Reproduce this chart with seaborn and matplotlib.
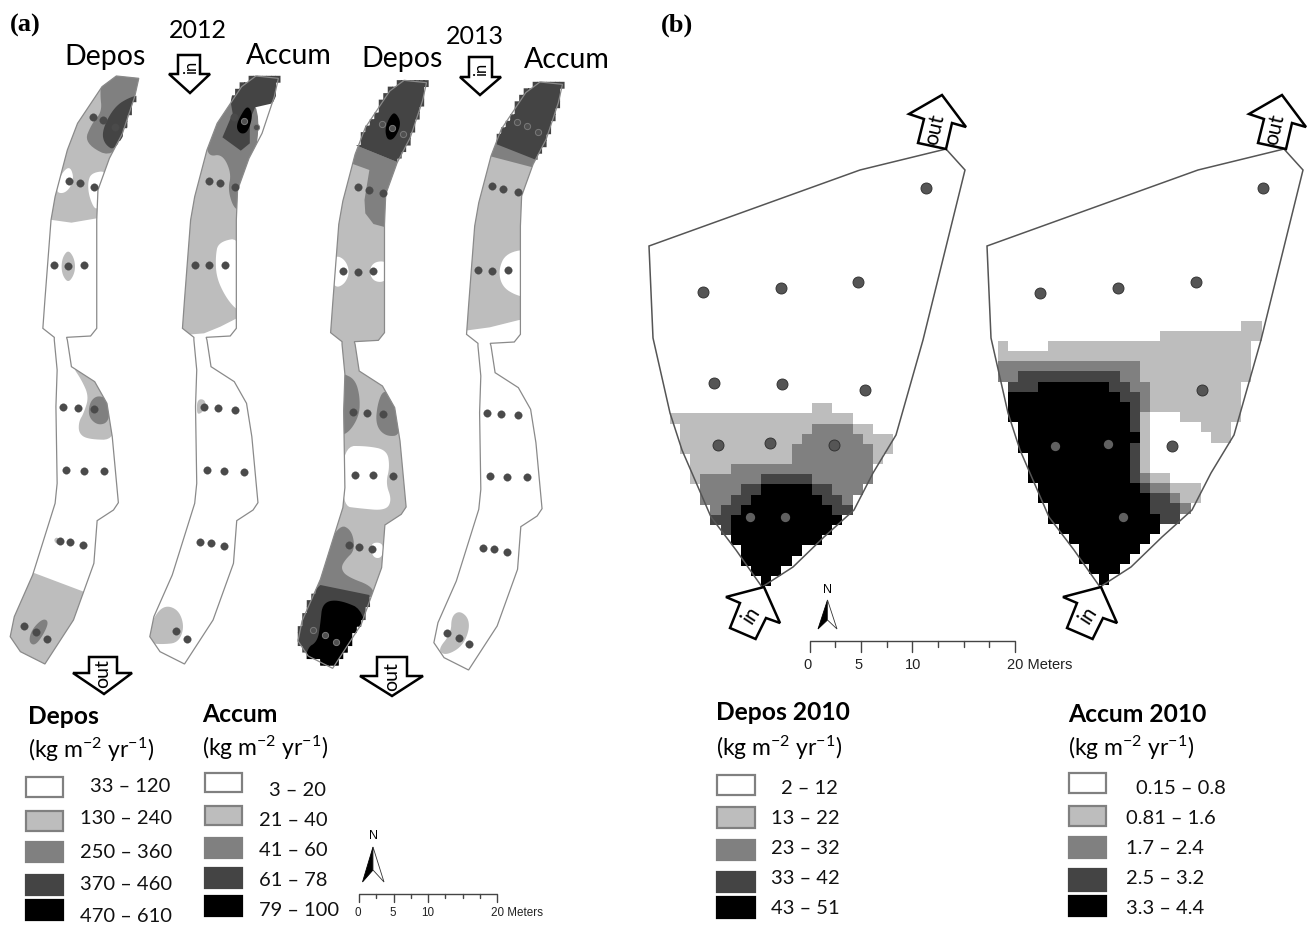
import numpy as np
import pandas as pd
import matplotlib
matplotlib.use("Agg")
import matplotlib.pyplot as plt
from matplotlib.path import Path
from matplotlib.patches import Polygon, Rectangle
from matplotlib.colors import ListedColormap
import seaborn as sns

W, H = 1309, 925
sns.set_theme(style="white")
plt.rcParams["font.family"] = ["Lato", "DejaVu Sans"]
plt.rcParams["mathtext.fontset"] = "custom"
plt.rcParams["mathtext.rm"] = "Lato"
plt.rcParams["mathtext.default"] = "rm"

GREYS = ["#ffffff", "#bdbdbd", "#808080", "#444444", "#000000"]
SX, SY = 2.45, 3.0   # survey-plan units of panel (a) to pixels

# ---- panel (a): flume outline, offsets of the four maps
strip_outline = [(285,228),(340,235),(330,290),(300,400),(268,475),(240,570),(237,660),(237,985),
    (222,1008),(163,1012),(165,1020),(175,1100),(232,1145),(262,1210),(275,1310),(290,1508),
    (278,1530),(238,1562),(230,1690),(180,1860),(110,1992),(50,1955),(25,1910),(35,1850),(80,1725),
    (135,1510),(140,1450),(137,1220),(140,1110),(133,1020),(133,1012),(105,985),(110,900),(125,660),
    (135,590),(165,450),(190,370),(250,260)]
strip_offsets = [(0,0),(342,0),(705,13),(1038,18)]

# zones: (class, smooth?, stair-clip?, polygon)
zones_dep12 = [
    (1,False,False,[(80,200),(360,200),(360,655),(237,655),(175,668),(128,660),(80,650)]),
    (0,True,False,[(172,497),(182,540),(162,580),(135,578),(150,520)]),
    (0,True,False,[(225,518),(265,512),(250,600),(235,635),(218,590),(215,545)]),
    (2,True,False,[(250,215),(360,215),(340,300),(285,480),(205,430),(225,370),(250,335),(245,280)]),
    (3,True,True,[(320,290),(350,285),(285,455),(255,432),(250,390),(280,320)]),
    (1,True,False,[(167,750),(180,770),(185,800),(180,828),(167,848),(154,828),(150,800),(154,770)]),
    (1,True,False,[(175,1095),(240,1140),(270,1210),(285,1320),(215,1318),(193,1300),(193,1265),(205,1240),(218,1190),(200,1140)]),
    (2,True,False,[(240,1185),(268,1200),(268,1265),(240,1277),(216,1250),(220,1205)]),
    (1,True,False,[(140,1610),(148,1625),(140,1634),(131,1620)]),
    (1,False,False,[(75,1715),(205,1775),(180,1900),(110,2010),(0,1980),(0,1850)]),
    (2,True,False,[(105,1855),(120,1865),(106,1905),(85,1938),(70,1925),(78,1888)]),
]
zones_acc12 = [
    (1,False,False,[(430,440),(640,440),(640,955),(580,955),(540,980),(500,1000),(450,1005),(420,1020),(400,800)]),
    (0,True,False,[(535,725),(595,712),(595,935),(575,925),(550,885),(530,830),(528,770)]),
    (2,True,False,[(510,470),(545,462),(567,520),(558,570),(575,632),(600,625),(650,300),(540,280),(520,350),(505,420)]),
    (3,False,True,[(565,305),(590,170),(720,170),(668,310),(625,322),(612,360),(612,430),(590,452),(545,412),(570,340)]),
    (4,True,False,[(607,315),(620,345),(607,398),(588,402),(578,380),(590,345)]),
    (1,True,False,[(483,1198),(502,1198),(505,1225),(490,1242),(482,1240)]),
    (1,True,False,[(400,1815),(437,1828),(452,1880),(437,1928),(400,1933),(365,1930),(370,1865)]),
]
zones_dep13 = [
    (1,False,False,[(780,440),(1100,440),(1100,1790),(700,1790)]),
    (0,True,False,[(840,1338),(900,1338),(948,1350),(955,1400),(945,1450),(960,1500),(945,1532),(880,1525),(838,1518)]),
    (0,True,False,[(820,765),(845,778),(857,815),(845,852),(820,865),(805,815)]),
    (0,True,False,[(915,786),(947,783),(957,815),(942,847),(915,844),(904,815)]),
    (2,False,False,[(860,430),(975,487),(970,545),(945,590),(945,682),(915,672),(895,640),(893,600),(905,510),(860,490)]),
    (2,True,False,[(840,1120),(870,1138),(882,1190),(880,1250),(850,1305),(815,1305),(815,1115)]),
    (2,True,False,[(940,1168),(968,1190),(985,1305),(945,1310),(920,1275),(925,1210)]),
    (2,True,False,[(830,1572),(862,1590),(870,1650),(845,1680),(835,1705),(850,1730),(915,1760),(915,1800),(760,1800),(775,1700)]),
    (0,True,False,[(907,1628),(940,1628),(937,1674),(913,1674)]),
    (3,False,True,[(785,1755),(905,1785),(920,2020),(680,2020),(700,1850)]),
    (4,True,True,[(790,1808),(830,1798),(900,1835),(900,2060),(740,2060),(750,1945),(778,1925),(785,1870)]),
    (3,False,True,[(860,430),(975,487),(1100,450),(1100,150),(800,150),(800,420)]),
    (4,True,False,[(968,335),(984,370),(966,418),(948,420),(943,385),(955,350)]),
]
zones_acc13 = [
    (1,False,False,[(1100,440),(1400,440),(1400,958),(1272,960),(1200,982),(1140,992),(1100,995)]),
    (0,True,False,[(1240,758),(1305,745),(1305,895),(1265,887),(1230,860),(1221,810)]),
    (2,False,False,[(1180,400),(1340,470),(1330,510),(1180,462)]),
    (3,False,True,[(1180,422),(1215,432),(1310,478),(1420,500),(1450,180),(1200,180)]),
    (1,True,False,[(1125,1832),(1147,1852),(1150,1890),(1132,1940),(1092,1967),(1072,1950),(1105,1900),(1106,1850)]),
]
strip_zones = [zones_dep12, zones_acc12, zones_dep13, zones_acc13]

# sampling points of panel (a)
pts_a_x = [228,253,281,168,196,230,133,167,207,155,190,230,162,206,256,147,172,204,60,88,114,
           573,512,540,575,478,512,552,500,535,575,507,550,599,491,517,548,431,457,
           876,904,938,841,876,914,864,898,938,870,915,964,856,880,911,
           1205,1233,1268,1170,1205,1245,1193,1228,1268,1200,1243,1292,1184,1210,1241,1096,1124,1150]
pts_a_y = [352,361,381,542,550,561,796,798,796,1220,1224,1228,1410,1412,1414,1623,1627,1636,1878,1895,1916,
           352,542,550,561,794,796,794,1221,1225,1229,1411,1413,1415,1625,1629,1638,1894,1916,
           562,570,580,814,816,814,1235,1239,1243,1424,1425,1427,1636,1640,1648,
           557,566,576,810,812,810,1238,1242,1246,1428,1430,1432,1643,1647,1655,1898,1913,1933]
pts_a_dark_x = [597,626,936,960,988,768,797,823,1266,1291,1319]
pts_a_dark_y = [362,381,372,383,401,1889,1906,1927,367,377,396]

# ---- panel (b): class grids (row strings, '.' = lowest class / no fill)
grid_dep10 = [
 "..............11",
 "111111111111111111",
 ".1111111111111222211",
 ".111111111111222222111",
 ".111111111112222222211",
 "..1111111111222222221",
 "..111122222222222222",
 "..122222233333222222",
 "...2222334444433222",
 "...222334444444332",
 "....23344444444433",
 "....3344444444444",
 ".....34444444444",
 "......444444444",
 ".......444444",
 ".......44444",
 "........444",
 ".........4"]
grid_acc10 = [
 "........................11",
 "................1111111111",
 "1....11111111111111111111.",
 "1111111111111111111111111.",
 "2222222222222211111111111.",
 "2233333333332211111111111.",
 ".33344444443322111111111",
 ".44444444444332111111111",
 ".44444444444432111111111",
 ".44444444444431...111111",
 "..4444444444431.....111",
 "..4444444444441......11",
 "..4444444444431",
 "...444444444431",
 "...444444444431",
 "...44444444443211",
 "....4444444444322111",
 "....4444444444433211",
 ".....44444444443332",
 ".....4444444444433",
 "......4444444444",
 ".......44444444",
 "........444444",
 "........44444",
 ".........444",
 "..........4"]
GRID_CELL = 10.15
grid_dep_origin = (669.8, 403.3)
grid_acc_origin = (997.7, 320.7)

field_outline = [(649,246),(653,338),(670,413),(682,450),(711,517),(736,550),(762,587),(793,567),
                 (824,537),(854,510),(873,473),(896,435),(923,340),(965,170),(946,149),(860,170)]
field_offset = 338

pts_b_x = [926,703,781,858,714,782,865,718,770,834, 1263,1040,1118,1196,1202,1172]
pts_b_y = [188,292,288,282,383,384,390,445,443,445, 188,293,288,282,390,446]
pts_b_black_x = [750,785,1055,1108,1123]
pts_b_black_y = [517,517,446,444,517]

# ---- arrows
arrow_down_in12 = [(178,55),(200,55),(200,74),(210,74),(190,93),(169,74),(178,74)]
arrow_down_in13 = [(469,57),(492,57),(492,77),(501,77),(480,95),(460,77),(469,77)]
arrow_down_out12 = [(89,657),(117,657),(117,673),(132,673),(104,694),(73,673),(89,673)]
arrow_down_out13 = [(377,657),(407,657),(407,676),(423,676),(392,696),(360,676),(377,676)]
arrow_out_b = [(942,95),(966,127),(952,123),(946,149),(918,143),(924,119),(909,114)]
arrow_in_b = [(764,587),(780,623),(766,618),(755.6,639),(730,628),(740,603),(726,597)]

# ---- legends
legends = [
 dict(title="Depos", tx=28, ty=717, ux=28, uy=750, bx=(26,63),
      top=[777,811,842,875,900], bot=[797,831,862,895,920],
      labels=["33 – 120","130 – 240","250 – 360","370 – 460","470 – 610"],
      lx=[90,80.5,80.5,80.5,80.5], ly=[787,819,852,884,917]),
 dict(title="Accum", tx=202, ty=715, ux=202, uy=748, bx=(205,242),
      top=[773,806,838,868,896], bot=[792,825,858,888,916],
      labels=["3 – 20","21 – 40","41 – 60","61 – 78","79 – 100"],
      lx=[268.6,259,259,259,259], ly=[790,820,851,880,911]),
 dict(title="Depos 2010", tx=715.5, ty=713, ux=715.5, uy=748, bx=(716.5,754.5),
      top=[775,807,840,872,897], bot=[795,828,860,892,918],
      labels=["2 – 12","13 – 22","23 – 32","33 – 42","43 – 51"],
      lx=[781,771,771,771,771], ly=[788,818,848,878,908]),
 dict(title="Accum 2010", tx=1068, ty=715, ux=1068, uy=748, bx=(1069,1106),
      top=[773,806,837,869,896], bot=[793,826,858,891,916],
      labels=["0.15 – 0.8","0.81 – 1.6","1.7 – 2.4","2.5 – 3.2","3.3 – 4.4"],
      lx=[1135.5,1126,1126.5,1126.5,1126.5], ly=[788,818,848,878,908]),
]
map_titles = [("Depos",105,57),("Accum",288.6,56),("Depos",402,59),("Accum",567,60)]
year_titles = [("2012",198,31),("2013",475,37)]

# ---- helpers
def to_px(pts, dx=0, dy=0):
    a = np.array(pts, dtype=float)
    return np.c_[(a[:,0]+dx)/SX, (a[:,1]+dy)/SY]

def chaikin(a, n=3):
    for _ in range(n):
        b = np.roll(a, -1, axis=0)
        a = np.c_[0.75*a[:,0]+0.25*b[:,0], 0.75*a[:,1]+0.25*b[:,1], 0.25*a[:,0]+0.75*b[:,0], 0.25*a[:,1]+0.75*b[:,1]].reshape(-1,2)
    return a

def stair_clip(path, cx=4.5, cy=6.5):
    ext = path.get_extents()
    xs = np.arange(ext.x0-cx, ext.x1+cx, cx)
    ys = np.arange(ext.y0-cy, ext.y1+cy, cy)
    rects = []
    for x in xs:
        for y in ys:
            if path.contains_point((x+cx/2, y+cy/2), radius=1.0) or path.contains_point((x+cx/2, y+cy/2), radius=-1.0):
                rects.append(Path([(x-.2,y-.2),(x+cx+.2,y-.2),(x+cx+.2,y+cy+.2),(x-.2,y+cy+.2),(x-.2,y-.2)], closed=True))
    return Path.make_compound_path(*rects)

def grid_to_frame(rows):
    n = max(len(r) for r in rows)
    m = [[np.nan if c == "." else int(c) for c in r.ljust(n, ".")] for r in rows]
    return pd.DataFrame(m)

# ---- figure
fig = plt.figure(figsize=(W/100, H/100), dpi=100, facecolor="white")
cmap = ListedColormap(GREYS)
for rows, (x0, y0) in [(grid_dep10, grid_dep_origin), (grid_acc10, grid_acc_origin)]:
    df = grid_to_frame(rows)
    h, w = df.shape
    axg = fig.add_axes([x0/W, 1-(y0+h*GRID_CELL)/H, w*GRID_CELL/W, h*GRID_CELL/H], zorder=0)
    sns.heatmap(df, ax=axg, cmap=cmap, vmin=-0.5, vmax=4.5, cbar=False, xticklabels=False,
                yticklabels=False, mask=df.isna())
    axg.set_axis_off()

ax = fig.add_axes([0,0,1,1], zorder=1)
ax.set_xlim(0, W); ax.set_ylim(H, 0)
ax.patch.set_visible(False); ax.set_axis_off()

# panel (a) maps
for (dx, dy), zones in zip(strip_offsets, strip_zones):
    outline = to_px(strip_outline, dx, dy)
    spath = Path(np.r_[outline, outline[:1]], closed=True)
    stair = stair_clip(spath)
    for cls, smooth, jag, poly in zones:
        a = to_px(poly)
        if smooth:
            a = chaikin(a)
        pt = Polygon(a, closed=True, facecolor=GREYS[cls], edgecolor="none", zorder=2)
        ax.add_patch(pt)
        pt.set_clip_path(stair if jag else spath, transform=ax.transData)
    ax.add_patch(Polygon(outline, closed=True, fill=False, edgecolor="#8a8a8a", lw=0.9, zorder=3))

# panel (b) outlines
for off in (0, field_offset):
    a = np.array(field_outline, float) + [off, 0]
    ax.add_patch(Polygon(a, closed=True, fill=False, edgecolor="#555555", lw=1.1, zorder=3))

# sample points
a_pts = to_px(list(zip(pts_a_x, pts_a_y)))
sns.scatterplot(x=a_pts[:,0], y=a_pts[:,1], ax=ax, color="#4a4a4a", s=30, edgecolor="#4a4a4a", linewidth=0.2, zorder=4, legend=False)
ad_pts = to_px(list(zip(pts_a_dark_x, pts_a_dark_y)))
sns.scatterplot(x=ad_pts[:,0], y=ad_pts[:,1], ax=ax, color="#505050", s=20, edgecolor="#7a7a7a", linewidth=0.7, zorder=4, legend=False)
sns.scatterplot(x=pts_b_x, y=pts_b_y, ax=ax, color="#555555", s=62, marker="o", edgecolor="#333333", linewidth=0.7, zorder=4, legend=False)
sns.scatterplot(x=pts_b_black_x, y=pts_b_black_y, ax=ax, color="#606060", s=45, linewidth=0, zorder=4, legend=False)
ax.set_xlim(0, W); ax.set_ylim(H, 0)
ax.set_xlabel(""); ax.set_ylabel("")

# arrows
for pts in [arrow_down_in12, arrow_down_in13, arrow_down_out12, arrow_down_out13]:
    ax.add_patch(Polygon(pts, closed=True, facecolor="white", edgecolor="black", lw=1.8, zorder=5))
for off in (0, 340):
    ax.add_patch(Polygon(np.array(arrow_out_b)+[off,0], closed=True, facecolor="white", edgecolor="black", lw=1.8, zorder=5))
    ax.text(935+off, 130, "out", rotation=77, ha="center", va="center", fontsize=15, color="black", zorder=6)
for off in (0, 337):
    ax.add_patch(Polygon(np.array(arrow_in_b)+[off,0], closed=True, facecolor="white", edgecolor="black", lw=1.8, zorder=5))
    ax.text(751+off, 615, "in", rotation=57, ha="center", va="center", fontsize=15, color="black", zorder=6)
for x, y, s, fs in [(191,67,"in",12),(481,69,"in",12),(103,674,"out",14),(392,677,"out",14)]:
    ax.text(x, y, s, rotation=90, ha="center", va="center", fontsize=fs, color="black", zorder=6)

# titles
for s, x, y in map_titles:
    ax.text(x, y, s, ha="center", va="center", fontsize=20.5, color="black")
for s, x, y in year_titles:
    ax.text(x, y, s, ha="center", va="center", fontsize=18, color="black")
ax.text(10, 25, "(a)", family="Liberation Serif", weight="bold", fontsize=19, color="black", va="center")
ax.text(661, 25, "(b)", family="Liberation Serif", weight="bold", fontsize=19, color="black", va="center")

# legends
for lg in legends:
    ax.text(lg["tx"], lg["ty"], lg["title"], weight="bold", fontsize=17.7, color="black", va="center")
    ax.text(lg["ux"], lg["uy"], r"(kg m$^{-2}$ yr$^{-1}$)", fontsize=16.5, color="black", va="center")
    for i, (t, b) in enumerate(zip(lg["top"], lg["bot"])):
        ec = "#808080" if i < 2 else GREYS[i]
        ax.add_patch(Rectangle((lg["bx"][0], t), lg["bx"][1]-lg["bx"][0], b-t, facecolor=GREYS[i], edgecolor=ec, lw=1.6))
        ax.text(lg["lx"][i], lg["ly"][i], lg["labels"][i], fontsize=14.5, color="#111111", va="center")

# north arrows and scale bars
for tip, waist, l, r, ny, nx in [((373,847),(373,870),(362.5,882),(384,882),836,373),
                                 ((827.5,600),(827.5,620),(818,629),(837,629),590,827.5)]:
    ax.add_patch(Polygon([tip, waist, l], closed=True, facecolor="black", edgecolor="black", lw=0.6))
    ax.add_patch(Polygon([tip, r, waist], closed=True, facecolor="white", edgecolor="#333333", lw=0.6))
    ax.text(nx, ny, "N", family="Liberation Sans", fontsize=9, color="black", ha="center", va="center")

for x0, x1, yb, maj, mnr, fs, ly, labs in [
        (359,497,894,8,4,8.4,913,[("0",358),("5",393),("10",427.5),("20 Meters",491)]),
        (809.5,1015,641,11,6,10.5,665,[("0",808),("5",859),("10",913),("20 Meters",1007)])]:
    ax.plot([x0,x1],[yb,yb], color="#444444", lw=1.0, solid_capstyle="butt")
    for i, xt in enumerate(np.linspace(x0, x1, 9)):
        ln = maj if i in (0,2,4,8) else mnr
        ax.plot([xt,xt],[yb,yb+ln], color="#444444", lw=1.0)
    for s, x in labs:
        ha = "left" if "Meters" in s else "center"
        ax.text(x, ly, s, family="Liberation Sans", fontsize=fs, color="#222222", ha=ha, va="center")

fig.savefig("out.png", dpi=100, facecolor="white")
